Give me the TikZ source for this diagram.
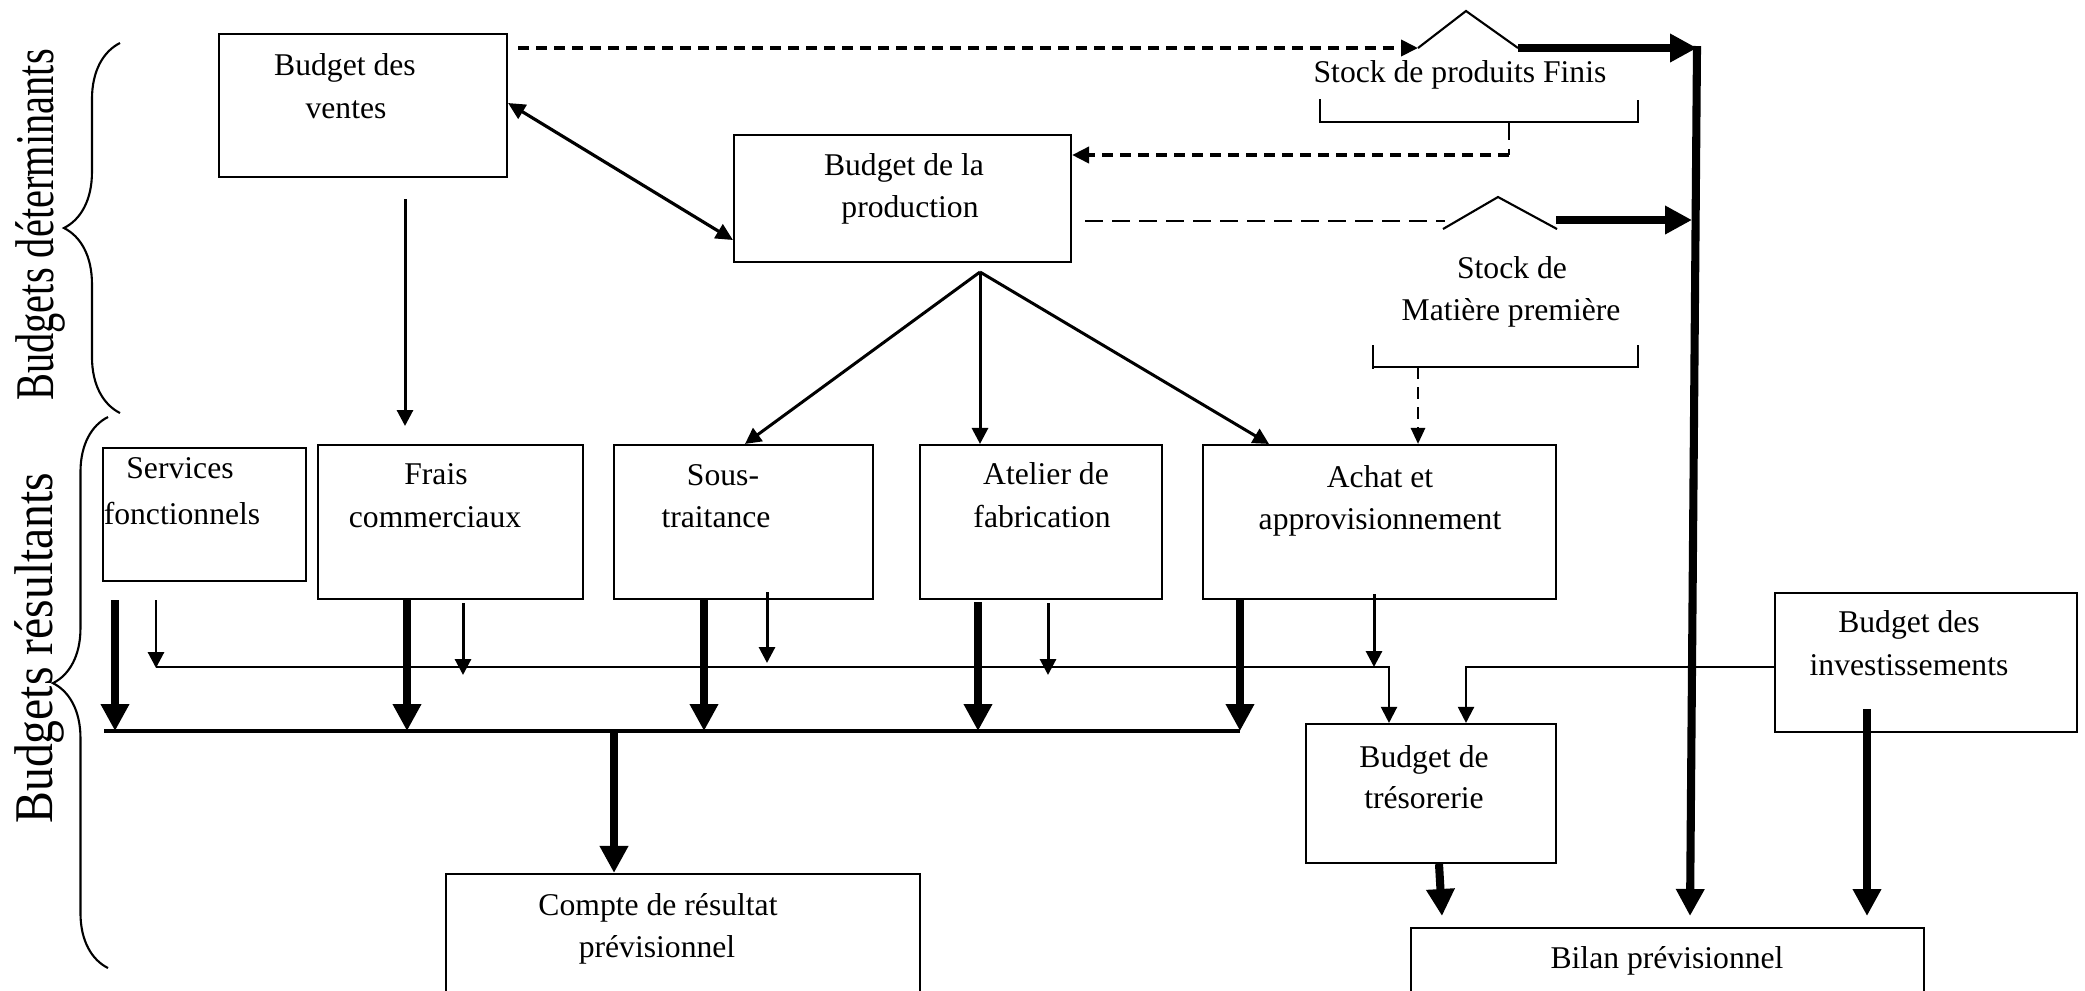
\documentclass[tikz,border=0pt]{standalone}
\usepackage{fontspec}
\setmainfont{Liberation Serif}
\usetikzlibrary{arrows.meta,decorations.pathreplacing,fit}

\begin{document}
\begin{tikzpicture}[x=0.01cm,y=-0.01cm,
  box/.style={draw, line width=0.6pt, inner sep=0pt},
  lbl/.style={font=\fontsize{9}{11}\selectfont, anchor=base, inner sep=0pt},
  sidelbl/.style={rotate=90, anchor=base, inner sep=0pt},
  thinline/.style={line width=0.6pt},
  thinarrow/.style={line width=0.85pt, -{Triangle[length=1.6mm,width=1.6mm]}},
  thickarrow/.style={line width=2.3pt, -{Triangle[length=2.7mm,width=2.7mm]}},
  busline/.style={line width=1.2pt},
  dashlight/.style={line width=0.7pt, dash pattern=on 1.8mm off 0.9mm},
  dasharrow/.style={line width=1.1pt, dash pattern=on 1.1mm off 0.7mm, -{Triangle[length=1.7mm,width=1.6mm]}},
  dashdown/.style={line width=0.8pt, dash pattern=on 1.2mm off 0.8mm, -{Triangle[length=1.6mm,width=1.4mm]}},
  bracebar/.style={line width=0.6pt, decorate},
]
\fill[white] (0,0) rectangle (2085,990);
\useasboundingbox (0,0) rectangle (2085,990);
\clip (0,0) rectangle (2085,990);

% ---------- boxes ----------
\node[box, fit={(219,34) (507,177)}] (ventes) {};
\node[box, fit={(734,135) (1071,262)}] (prod) {};
\node[box, fit={(103,448) (306,581)}] (serv) {};
\node[box, fit={(318,445) (583,599)}] (frais) {};
\node[box, fit={(614,445) (873,599)}] (sous) {};
\node[box, fit={(920,445) (1162,599)}] (atel) {};
\node[box, fit={(1203,445) (1556,599)}] (achat) {};
\node[box, fit={(1306,724) (1556,863)}] (treso) {};
\node[box, fit={(1775,593) (2077,732)}] (invest) {};
\node[box, fit={(446,874) (920,1030)}] (compte) {};
\node[box, fit={(1411,928) (1924,1030)}] (bilan) {};

% ---------- box texts ----------
\node[lbl] (ventes-a) at (345,75) {Budget des};
\node[lbl] (ventes-b) at (346,118) {ventes};
\node[lbl] (prod-a) at (904,175) {Budget de la};
\node[lbl] (prod-b) at (910,217) {production};
\node[lbl] (pf) at (1460,82) {Stock de produits Finis};
\node[lbl] (mp-a) at (1512,278) {Stock de};
\node[lbl] (mp-b) at (1511,320) {Matière première};
\node[lbl] (serv-a) at (180,478) {Services};
\node[lbl] (serv-b) at (182,524) {fonctionnels};
\node[lbl] (frais-a) at (436,484) {Frais};
\node[lbl] (frais-b) at (435,527) {commerciaux};
\node[lbl] (sous-a) at (723,485) {Sous-};
\node[lbl] (sous-b) at (716,527) {traitance};
\node[lbl] (atel-a) at (1046,484) {Atelier de};
\node[lbl] (atel-b) at (1042,527) {fabrication};
\node[lbl] (achat-a) at (1380,487) {Achat et};
\node[lbl] (achat-b) at (1380,529) {approvisionnement};
\node[lbl] (treso-a) at (1424,767) {Budget de};
\node[lbl] (treso-b) at (1424,808) {trésorerie};
\node[lbl] (inv-a) at (1909,632) {Budget des};
\node[lbl] (inv-b) at (1909,675) {investissements};
\node[lbl] (compte-a) at (658,915) {Compte de résultat};
\node[lbl] (compte-b) at (657,957) {prévisionnel};
\node[lbl] (bilan-a) at (1667,968) {Bilan prévisionnel};

% ---------- side labels and braces ----------
\node[sidelbl] (det) at (54,225)
  {\scalebox{0.742}[1]{\fontsize{15.5}{18}\selectfont Budgets déterminants}};
\node[sidelbl] (res) at (52,648)
  {\scalebox{0.875}[1]{\fontsize{15.5}{18}\selectfont Budgets résultants}};
\draw[bracebar, decoration={brace, amplitude=0.56cm, aspect=0.5}]
  (120,413) -- (120,43);
\draw[bracebar, decoration={brace, amplitude=0.55cm, aspect=0.517}]
  (108,968) -- (108,417);

% ---------- stock symbols ----------
\coordinate (pfL) at (1418,48);
\coordinate (pfT) at (1466,11);
\coordinate (pfR) at (1518,48);
\draw[thinline] (pfL) -- (pfT) -- (pfR);
\draw[thinline] (1320,99) -- (1320,122) -- (1638,122) -- (1638,100);

\coordinate (mpL) at (1443,229);
\coordinate (mpT) at (1498,197);
\coordinate (mpR) at (1557,229);
\draw[thinline] (mpL) -- (mpT) -- (mpR);
\draw[thinline] (1373,345) -- (1373,369);
\draw[thinline] (1373,367) -- (1638,367) -- (1638,345);

% ---------- upper flows ----------
\coordinate (v-out) at (518,48);
\draw[dasharrow] (v-out) -- (pfL);

\coordinate (pf-drop) at (1509,122);
\coordinate (pf-turn) at (1509,155);
\draw[dashlight] (pf-drop) -- (pf-turn);
\draw[dasharrow] (pf-turn) -- (pf-turn -| prod.east);

\coordinate (p-out) at (1085,221);
\coordinate (mp-in) at (1445,221);
\draw[dashlight] (p-out) -- (mp-in);

\coordinate (mp-drop) at (1418,367);
\draw[dashdown] (mp-drop) -- (mp-drop |- achat.north);

% stock flows towards the balance sheet
\coordinate (bal-top) at (1697,46);
\coordinate (bal-end) at (1690,916);
\draw[thickarrow] (pfR) -- (1697,48);
\draw[thickarrow] (1556,220) -- (1692,220);
\draw[thickarrow] (bal-top) -- (bal-end);

% sales <-> production
\draw[line width=0.9pt, {Triangle[length=1.7mm,width=1.6mm]}-{Triangle[length=1.7mm,width=1.6mm]}]
  (ventes.east |- 0,103) -- (prod.west |- 0,240);

% sales -> commercial costs
\coordinate (v-drop) at (405,199);
\draw[thinarrow] (v-drop) -- (405,426);

% production fan-out
\coordinate (fan) at (980,272);
\draw[thinarrow] (fan) -- (745,0 |- sous.north);
\draw[thinarrow] (fan) -- (fan |- atel.north);
\draw[thinarrow] (fan) -- (1269,0 |- achat.north);

% ---------- result bus ----------
\coordinate (busL) at (104,731);
\coordinate (busR) at (1240,731);
\draw[busline] (busL) -- (busR);
\draw[thickarrow] (115,600) -- (115,731);
\draw[thickarrow] (407,0 |- frais.south) -- (407,731);
\draw[thickarrow] (704,0 |- sous.south) -- (704,731);
\draw[thickarrow] (978,602) -- (978,731);
\draw[thickarrow] (1240,0 |- achat.south) -- (busR);
\draw[thickarrow] (614,731) -- (614,0 |- compte.north);

% ---------- cash line ----------
\coordinate (cashL) at (156,667);
\coordinate (cashR) at (1389,667);
\draw[thinarrow, line width=0.6pt] (cashL) -- (cashR) -- (cashR |- treso.north);
\draw[thinarrow] (156,600) -- (156,668);
\draw[thinarrow] (463,603) -- (463,675);
\draw[thinarrow] (767,592) -- (767,663);
\draw[thinarrow] (1048,603) -- (1048,675);
\draw[thinarrow] (1374,594) -- (1374,667);

\coordinate (invL) at (1466,667);
\draw[thinarrow, line width=0.6pt] (invest.west |- invL) -- (invL) -- (invL |- treso.north);

% ---------- to the balance sheet ----------
\draw[thickarrow] (1439,0 |- treso.south) -- (1442,916);
\draw[thickarrow] (1867,709) -- (1867,916);
\end{tikzpicture}
\end{document}
